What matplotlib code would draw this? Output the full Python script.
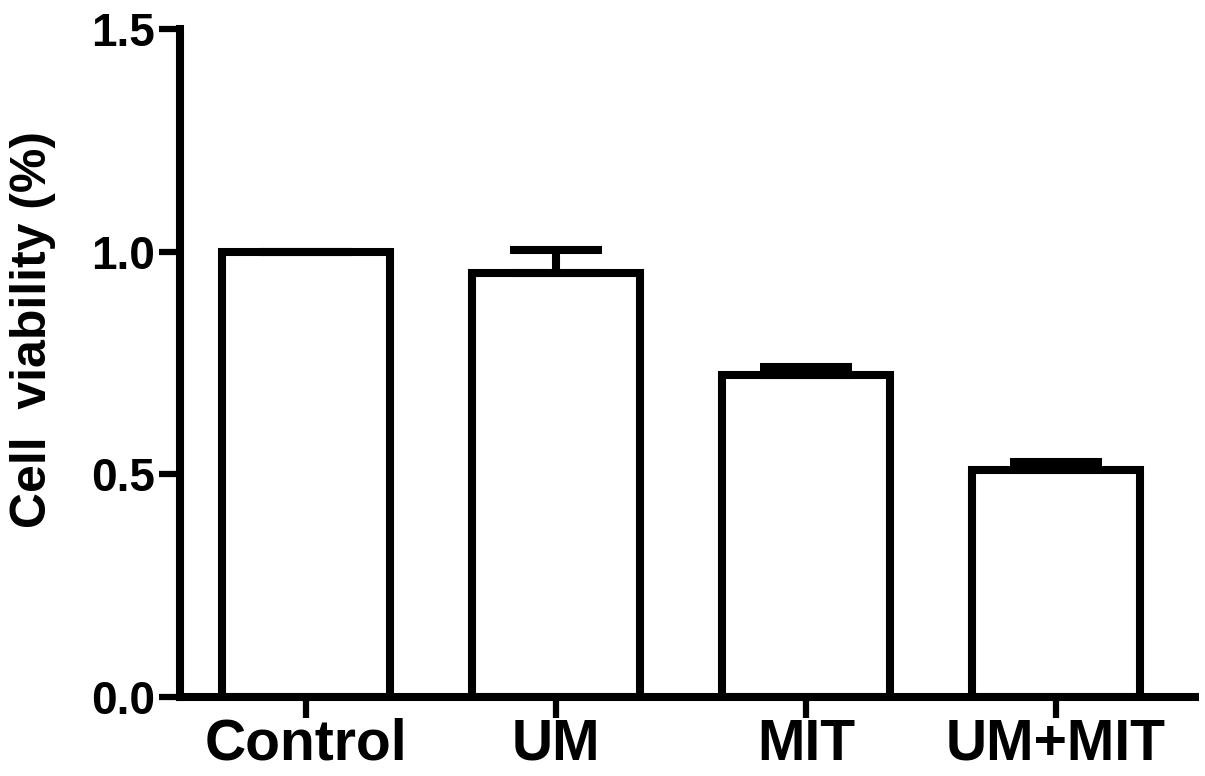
import numpy as np
import matplotlib
matplotlib.use("Agg")
import matplotlib.pyplot as plt

# data
groups = ["Control", "UM", "MIT", "UM+MIT"]
viability = [1.0, 0.952, 0.723, 0.510]
sem = [0.0, 0.052, 0.018, 0.018]
y_ticks = [0.0, 0.5, 1.0, 1.5]

plt.rcParams["font.family"] = ["Liberation Sans", "DejaVu Sans"]
plt.rcParams["font.weight"] = "bold"

W, H = 1205, 776
fig = plt.figure(figsize=(W / 100, H / 100), dpi=100)
# axes box in pixels: left spine x=180, bottom y=697, top y=29, right x=1195
ax = fig.add_axes([180 / W, 1 - 697 / H, (1195 - 180) / W, (697 - 29) / H])

lw = 5.8  # ~8 px lines
x = np.arange(len(groups))
bars = ax.bar(x, viability, width=0.672, color="white", edgecolor="black",
              linewidth=lw, zorder=2)
for b in bars:
    b.set_joinstyle("miter")

# error bars only upward
yerr = np.array([np.zeros(len(sem)), sem])
ax.errorbar(x, viability, yerr=yerr, fmt="none", ecolor="black",
            elinewidth=lw, capsize=33, capthick=lw, zorder=3)

ax.set_xlim(-0.504, 3.556)
ax.set_ylim(0, 1.5)
ax.set_yticks(y_ticks)
ax.set_yticklabels([f"{v:.1f}" for v in y_ticks])
ax.set_xticks(x)
ax.set_xticklabels(groups)

for side in ["top", "right"]:
    ax.spines[side].set_visible(False)
for side in ["left", "bottom"]:
    ax.spines[side].set_linewidth(lw)
    ax.spines[side].set_capstyle("projecting")

ax.tick_params(axis="y", length=15, width=4.5, pad=3, labelsize=33)
ax.tick_params(axis="x", length=15, width=4.5, pad=0, labelsize=41)

fig.text(33 / W, 1 - 329 / H, "Cell  viability (%)", rotation=90,
         ha="center", va="center", fontsize=36, fontweight="bold")

fig.savefig("out.png", dpi=100, facecolor="white")
